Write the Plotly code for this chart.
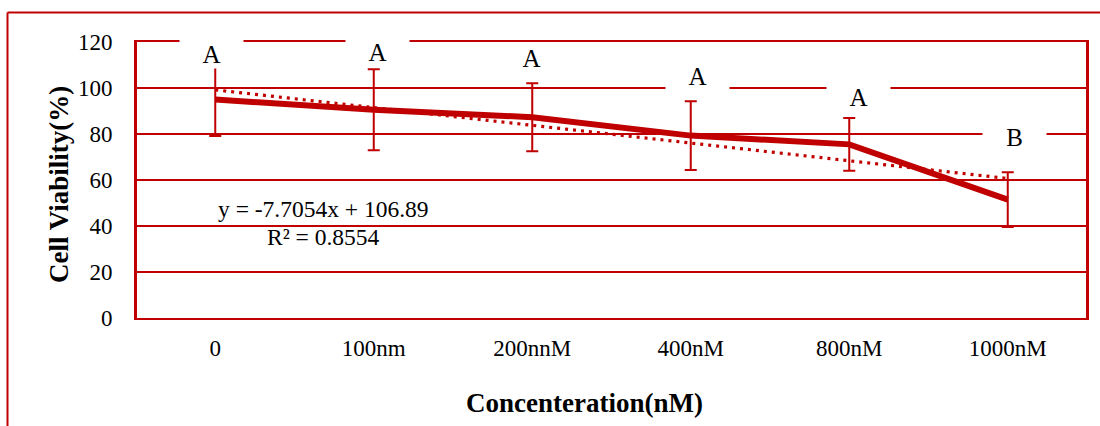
import plotly.graph_objects as go

# ---- data ----
categories = ["0", "100nm", "200nnM", "400nM", "800nM", "1000nM"]
viability = [95.0, 90.5, 87.3, 79.3, 75.5, 51.5]
err = [15.9, 17.6, 14.8, 14.9, 11.5, 11.9]
letters = ["A", "A", "A", "A", "A", "B"]
letter_y = [114.8, 115.7, 113.0, 105.4, 96.3, 78.7]
trend_slope = -7.7054
trend_intercept = 106.89
eq_text = "y = -7.7054x + 106.89"
r2_text = "R² = 0.8554"
y_ticks = [0, 20, 40, 60, 80, 100, 120]

RED = "#C00000"
FONT = "Liberation Serif"

# plot area in pixels
W, H = 1100, 426
L, R, T, B = 136, 1087, 42, 318
PW, PH = R - L, B - T


def px(x):
    return (x - L) / PW


def py(y):
    return (B - y) / PH


trend = [trend_slope * (i + 1) + trend_intercept for i in range(len(categories))]

fig = go.Figure()
fig.add_trace(go.Scatter(
    x=categories, y=viability, mode="lines",
    line=dict(color=RED, width=6),
    error_y=dict(type="data", array=err, visible=True, color=RED, thickness=2, width=6),
    showlegend=False, hoverinfo="skip",
))
fig.add_trace(go.Scatter(
    x=categories, y=trend, mode="lines",
    line=dict(color=RED, width=3.2, dash="3px,5px"),
    showlegend=False, hoverinfo="skip",
))

annotations = []
xshift = [-4, 4, -1, 7, 9, 7]
for i, (c, t, yv) in enumerate(zip(categories, letters, letter_y)):
    annotations.append(dict(
        x=c, y=yv, xref="x", yref="y", text=t, showarrow=False,
        font=dict(family=FONT, size=25, color="black"),
        bgcolor="white", width=63, height=28, borderpad=0,
        xanchor="center", yanchor="middle", xshift=xshift[i],
    ))

annotations.append(dict(x=px(323), y=py(209), xref="paper", yref="paper", text=eq_text,
                        showarrow=False, font=dict(family=FONT, size=23.5, color="black"),
                        xanchor="center", yanchor="middle"))
annotations.append(dict(x=px(323), y=py(237), xref="paper", yref="paper", text=r2_text,
                        showarrow=False, font=dict(family=FONT, size=23.5, color="black"),
                        xanchor="center", yanchor="middle"))
# axis titles
annotations.append(dict(x=px(59), y=py(185), xref="paper", yref="paper",
                        text="<b>Cell Viability(%)</b>", textangle=-90, showarrow=False,
                        font=dict(family=FONT, size=27, color="black"),
                        xanchor="center", yanchor="middle"))
annotations.append(dict(x=px(584), y=py(403), xref="paper", yref="paper",
                        text="<b>Concenteration(nM)</b>", showarrow=False,
                        font=dict(family=FONT, size=27, color="black"),
                        xanchor="center", yanchor="middle"))

shapes = [
    # outer chart border (top and left visible)
    dict(type="line", xref="paper", yref="paper", x0=px(7.5), x1=px(1110),
         y0=py(12.5), y1=py(12.5), line=dict(color=RED, width=2)),
    dict(type="line", xref="paper", yref="paper", x0=px(7.5), x1=px(7.5),
         y0=py(12.5), y1=py(440), line=dict(color=RED, width=2)),
    # plot-area left and right borders
    dict(type="line", xref="paper", yref="paper", x0=0, x1=0, y0=0, y1=1,
         line=dict(color=RED, width=2)),
    dict(type="line", xref="paper", yref="paper", x0=1, x1=1, y0=0, y1=1,
         line=dict(color=RED, width=2)),
]

fig.update_layout(
    width=W, height=H,
    margin=dict(l=L, r=W - R, t=T, b=H - B, pad=0),
    paper_bgcolor="white", plot_bgcolor="white",
    font=dict(family=FONT, size=23, color="black"),
    annotations=annotations, shapes=shapes,
    xaxis=dict(
        type="category", range=[-0.5, len(categories) - 0.5],
        showgrid=False, showline=True, linecolor=RED, linewidth=2, mirror=True,
        ticks="", tickfont=dict(family=FONT, size=23, color="black"),
        ticklabelstandoff=8, fixedrange=True,
    ),
    yaxis=dict(
        range=[0, 120], tickvals=y_ticks, showgrid=True, gridcolor=RED, gridwidth=1.5,
        zeroline=False, showline=True, linecolor=RED, linewidth=2, mirror=True,
        ticks="", tickfont=dict(family=FONT, size=23, color="black"),
        ticklabelstandoff=17, fixedrange=True,
    ),
)

fig.write_html("out.html", config={"displayModeBar": False},
               post_script="document.body.style.margin='0';")
